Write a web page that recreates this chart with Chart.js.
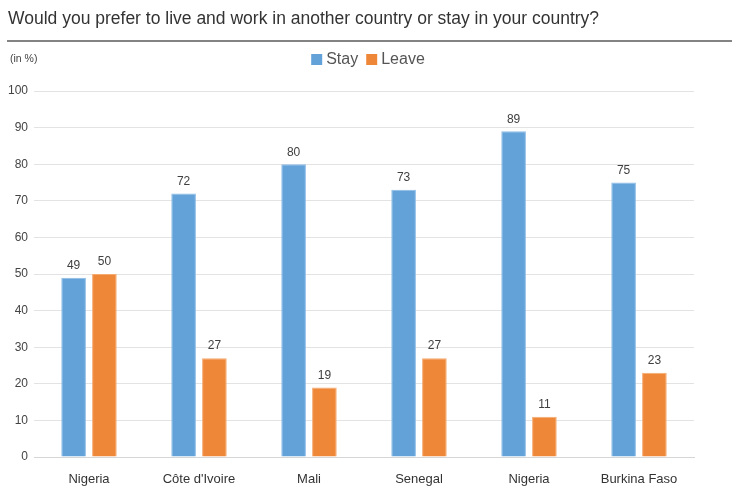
<!DOCTYPE html>
<html>
<head>
<meta charset="utf-8">
<script src="https://cdn.jsdelivr.net/npm/chart.js@4"></script>
<style>
  html, body { margin: 0; padding: 0; background: #fff; }
  #wrap { position: relative; width: 732px; height: 489px; }
</style>
</head>
<body>
<div id="wrap"><canvas id="chart" width="732" height="489"></canvas></div>
<script>
// Survey data (in %)
const countries = ['Nigeria', 'Côte d\'Ivoire', 'Mali', 'Senegal', 'Nigeria', 'Burkina Faso'];
const stayValues = [49, 72, 80, 73, 89, 75];
const leaveValues = [50, 27, 19, 27, 11, 23];
const yTicks = [0, 10, 20, 30, 40, 50, 60, 70, 80, 90, 100];

const titleText = 'Would you prefer to live and work in another country or stay in your country?';
const FONT = '"Liberation Sans", Arial, Helvetica, sans-serif';

// Title, rule, unit note and legend above the chart
const headerPlugin = {
    id: 'header',
    afterDraw(chart) {
        const ctx = chart.ctx;
        ctx.save();
        ctx.fillStyle = '#333';
        ctx.font = '17.5px ' + FONT;
        ctx.textBaseline = 'middle';
        ctx.textAlign = 'left';
        ctx.fillText(titleText, 8, 19);

        ctx.strokeStyle = '#5a5a5a';
        ctx.lineWidth = 1.5;
        ctx.beginPath();
        ctx.moveTo(7, 41);
        ctx.lineTo(732, 41);
        ctx.stroke();

        ctx.fillStyle = '#444';
        ctx.font = '10.5px ' + FONT;
        ctx.fillText('(in %)', 10, 59);

        // legend, centred on the page
        ctx.font = '16px ' + FONT;
        const items = chart.data.datasets.map(ds => ({
            label: ds.label,
            color: ds.backgroundColor,
            w: ctx.measureText(ds.label).width
        }));
        const box = 11, gap = 4, itemGap = 8;
        let total = 0;
        items.forEach((it, i) => { total += box + gap + it.w + (i ? itemGap : 0); });
        let x = 368 - total / 2;
        items.forEach(it => {
            ctx.fillStyle = it.color;
            ctx.fillRect(x, 54, box, box);
            ctx.fillStyle = '#555';
            ctx.fillText(it.label, x + box + gap, 60);
            x += box + gap + it.w + itemGap;
        });
        ctx.restore();
    }
};

// Value labels above each bar
const valueLabels = {
    id: 'valueLabels',
    afterDatasetsDraw(chart) {
        const ctx = chart.ctx;
        ctx.save();
        ctx.fillStyle = '#404040';
        ctx.font = '12px ' + FONT;
        ctx.textAlign = 'center';
        ctx.textBaseline = 'bottom';
        chart.data.datasets.forEach((ds, i) => {
            chart.getDatasetMeta(i).data.forEach((bar, j) => {
                ctx.fillText(ds.data[j], bar.x, bar.y - 6);
            });
        });
        ctx.restore();
    }
};

new Chart(document.getElementById('chart'), {
    type: 'bar',
    data: {
        labels: countries,
        datasets: [
            {
                label: 'Stay',
                data: stayValues,
                backgroundColor: '#62a2d9',
                borderColor: '#8cbce6',
                borderWidth: 1
            },
            {
                label: 'Leave',
                data: leaveValues,
                backgroundColor: '#ef8739',
                borderColor: '#f5aa70',
                borderWidth: 1
            }
        ]
    },
    options: {
        responsive: false,
        animation: false,
        categoryPercentage: 0.56,
        barPercentage: 0.8,
        layout: { padding: { top: 91, left: 0, right: 38, bottom: 0 } },
        plugins: {
            legend: { display: false },
            tooltip: { enabled: false }
        },
        scales: {
            x: {
                grid: { display: false, drawTicks: false },
                border: { color: '#d6d6d6' },
                ticks: {
                    color: '#333',
                    font: { family: FONT, size: 13 },
                    padding: 15
                },
                afterFit(scale) { scale.height = 32; }
            },
            y: {
                min: 0,
                max: 100,
                afterBuildTicks(scale) {
                    scale.ticks = yTicks.map(v => ({ value: v }));
                },
                grid: { color: '#e3e3e3', drawTicks: false },
                border: { display: false },
                ticks: {
                    color: '#444',
                    font: { family: FONT, size: 12 },
                    padding: 6
                },
                afterFit(scale) { scale.width = 34; }
            }
        }
    },
    plugins: [headerPlugin, valueLabels]
});
</script>
</body>
</html>
